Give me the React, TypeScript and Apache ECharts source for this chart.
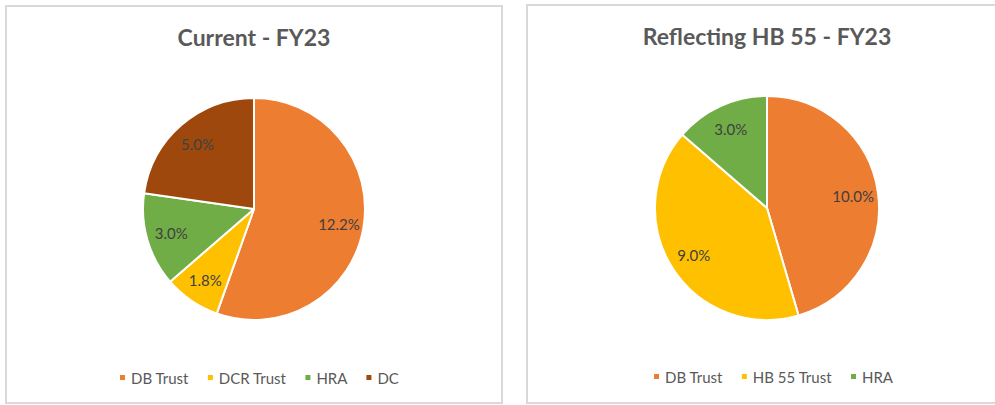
import React, { useEffect, useRef } from "react";
import * as echarts from "echarts";

const leftTitle = "Current - FY23";
const rightTitle = "Reflecting HB 55 - FY23";
const leftCategories = ["DB Trust", "DCR Trust", "HRA", "DC"];
const leftValues = [12.2, 1.8, 3.0, 5.0];
const leftColors = ["#ED7D31", "#FFC000", "#70AD47", "#9E480E"];
const rightCategories = ["DB Trust", "HB 55 Trust", "HRA"];
const rightValues = [10.0, 9.0, 3.0];
const rightColors = ["#ED7D31", "#FFC000", "#70AD47"];

const FONT = "Lato";

function pieData(cats: string[], vals: number[], colors: string[]) {
  return cats.map((name, i) => ({ name, value: vals[i], itemStyle: { color: colors[i] } }));
}

function labelData(cats: string[], vals: number[]) {
  return cats.map((name, i) => ({ name, value: vals[i] }));
}

export default function App() {
  const ref = useRef<HTMLDivElement>(null);
  useEffect(() => {
    if (!ref.current) return;
    const chart = echarts.init(ref.current, null, { renderer: "svg" });
    const fmt = (p: any) => Number(p.value).toFixed(1) + "%";
    const mkPie = (center: number[], r: number, data: any[]) => ({
      type: "pie",
      center,
      radius: [0, r],
      startAngle: 90,
      clockwise: true,
      data,
      label: { show: false },
      labelLine: { show: false },
      itemStyle: { borderColor: "#ffffff", borderWidth: 2 },
      emphasis: { disabled: true },
      silent: true,
    });
    const mkLabels = (center: number[], r: number, data: any[]) => ({
      type: "pie",
      center,
      radius: [r * 0.5, r],
      startAngle: 90,
      clockwise: true,
      data,
      itemStyle: { color: "rgba(0,0,0,0)" },
      label: {
        show: true,
        position: "inside",
        formatter: fmt,
        color: "#404040",
        fontSize: 15,
        fontFamily: FONT,
      },
      labelLine: { show: false },
      emphasis: { disabled: true },
      legendHoverLink: false,
      silent: true,
    });
    const legendBase = {
      orient: "horizontal",
      icon: "rect",
      itemWidth: 7,
      itemHeight: 7,
      itemGap: 17,
      padding: 0,
      selectedMode: false,
      textStyle: { color: "#595959", fontSize: 15, fontFamily: FONT },
    };
    chart.setOption({
      animation: false,
      backgroundColor: "#ffffff",
      graphic: [
        {
          type: "rect",
          shape: { x: 6, y: 6, width: 496, height: 397 },
          style: { fill: "none", stroke: "#D9D9D9", lineWidth: 2 },
        },
        {
          type: "rect",
          shape: { x: 527, y: 5, width: 480, height: 398 },
          style: { fill: "none", stroke: "#D9D9D9", lineWidth: 2 },
        },
      ],
      title: [
        {
          text: leftTitle,
          left: 254,
          top: 25,
          textAlign: "center",
          padding: 0,
          textStyle: { color: "#595959", fontSize: 23, fontWeight: "bold", fontFamily: FONT },
        },
        {
          text: rightTitle,
          left: 767,
          top: 24,
          textAlign: "center",
          padding: 0,
          textStyle: { color: "#595959", fontSize: 23, fontWeight: "bold", fontFamily: FONT },
        },
      ],
      legend: [
        { ...legendBase, data: leftCategories, left: 118, top: 370 },
        { ...legendBase, data: rightCategories, left: 652, top: 369 },
      ],
      series: [
        mkPie([254, 209], 111, pieData(leftCategories, leftValues, leftColors)),
        mkPie([767, 208], 112, pieData(rightCategories, rightValues, rightColors)),
        mkLabels([254, 209], 111, labelData(leftCategories, leftValues)),
        mkLabels([767, 208], 112, labelData(rightCategories, rightValues)),
      ],
    });
    return () => chart.dispose();
  }, []);
  return (
    <div
      ref={ref}
      style={{ position: "fixed", left: 0, top: 0, width: 995, height: 405 }}
    />
  );
}
